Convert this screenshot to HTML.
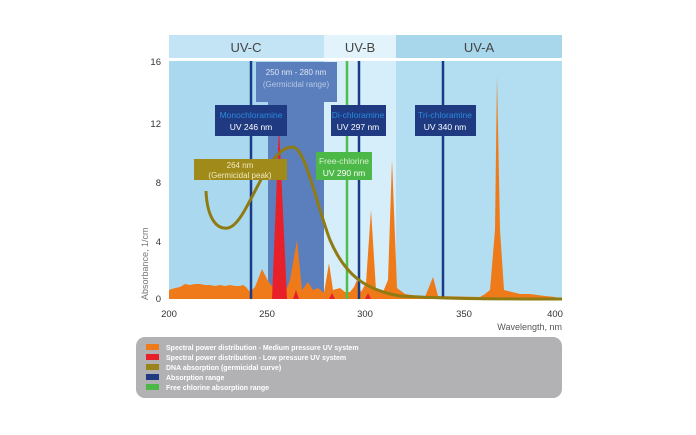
<!DOCTYPE html><html><head><style>body{margin:0;background:#fff}svg{display:block}text{font-family:"Liberation Sans",sans-serif}</style></head><body>
<svg width="696" height="435" viewBox="0 0 696 435">
<rect x="169" y="35" width="155" height="23" fill="#c3e4f4"/><rect x="324" y="35" width="72" height="23" fill="#e2f3fb"/><rect x="396" y="35" width="166" height="23" fill="#a8d6eb"/>
<text x="246" y="52" font-size="13" fill="#444" text-anchor="middle">UV-C</text><text x="360" y="52" font-size="13" fill="#444" text-anchor="middle">UV-B</text><text x="479" y="52" font-size="13" fill="#444" text-anchor="middle">UV-A</text>
<rect x="169" y="61" width="155" height="238" fill="#aad9ef"/><rect x="324" y="61" width="72" height="238" fill="#d6eef9"/><rect x="396" y="61" width="166" height="238" fill="#b3ddf0"/>
<path d="M256 62H337V102H324V299H268V102H256Z" fill="#5b7fbd"/>
<text x="296" y="75" font-size="8" fill="#dde6f4" text-anchor="middle">250 nm - 280 nm</text><text x="296" y="87" font-size="8" fill="#b8c8e4" text-anchor="middle">(Germicidal range)</text>
<polygon fill="#ef7a1a" points="169,299 169,290 175,288 180,287 185,284 190,285 195,284 200,284 205,285 210,285 215,286 220,285 225,286 230,285 235,286 240,286 243,285 246,287 250,292 255,287 262,269 268,281 275,290 283,298 290,280 297,240 302,290 308,282 313,290 318,288 324,293 329,263 333,290 340,288 345,292 350,292 354,287 357,280 361,292 366,283 371,210 376,290 383,292 388,280 392,160 397,288 405,294 425,297 433,277 438,296 480,297 485,294 490,290 495,230 497,76 500,230 504,290 512,292 520,294 530,294 545,296 555,297 562,299"/>
<polygon fill="#e8202a" points="272,299 279,126 287,299"/>
<g fill="#e8202a"><polygon points="293,299 296,290 299,299"/><polygon points="329,299 332,293 335,299"/><polygon points="365,299 368,293 371,299"/></g>
<line x1="251" y1="61" x2="251" y2="299" stroke="#1a3a8a" stroke-width="2.5"/><line x1="359" y1="61" x2="359" y2="299" stroke="#1a3a8a" stroke-width="2.5"/><line x1="443" y1="61" x2="443" y2="299" stroke="#1a3a8a" stroke-width="2.5"/><line x1="347" y1="61" x2="347" y2="299" stroke="#4cc04c" stroke-width="2.5"/>
<path d="M206,191 C207,215 215,230 228,228 C248,224 265,148 292,147 C305,146 315,200 330,240 C345,275 365,290 400,296 C450,299 500,299 562,299" fill="none" stroke="#8f7b12" stroke-width="3"/>
<rect x="215" y="105" width="72" height="31" fill="#1f3a80"/><text x="251" y="118" font-size="8.5" fill="#2a8ae0" text-anchor="middle">Monochloramine</text><text x="251" y="130" font-size="8.5" fill="#fff" text-anchor="middle">UV 246 nm</text>
<rect x="331" y="105" width="55" height="31" fill="#1f3a80"/><text x="358" y="118" font-size="8.5" fill="#2a8ae0" text-anchor="middle">Di-chloramine</text><text x="358" y="130" font-size="8.5" fill="#fff" text-anchor="middle">UV 297 nm</text>
<rect x="415" y="105" width="61" height="31" fill="#1f3a80"/><text x="445" y="118" font-size="8.5" fill="#2a8ae0" text-anchor="middle">Tri-chloramine</text><text x="445" y="130" font-size="8.5" fill="#fff" text-anchor="middle">UV 340 nm</text>
<rect x="316" y="152" width="56" height="28" fill="#4cb848"/><text x="344" y="164" font-size="8.5" fill="#d8f0d0" text-anchor="middle">Free-chlorine</text><text x="344" y="176" font-size="8.5" fill="#fff" text-anchor="middle">UV 290 nm</text>
<rect x="194" y="159" width="93" height="21" fill="#a08a1a"/><text x="240" y="168" font-size="8" fill="#f2e8c0" text-anchor="middle">264 nm</text><text x="240" y="178" font-size="8" fill="#f2e8c0" text-anchor="middle">(Germicidal peak)</text>
<g font-size="9.5" fill="#333" text-anchor="end"><text x="161" y="65">16</text><text x="161" y="127">12</text><text x="161" y="186">8</text><text x="161" y="245">4</text><text x="161" y="302">0</text></g>
<g font-size="9.5" fill="#333" text-anchor="middle"><text x="169" y="317">200</text><text x="267" y="317">250</text><text x="365" y="317">300</text><text x="464" y="317">350</text><text x="555" y="317">400</text></g>
<text x="562" y="330" font-size="9" fill="#555" text-anchor="end">Wavelength, nm</text>
<text transform="translate(148,300) rotate(-90)" font-size="9" fill="#777">Absorbance, 1/cm</text>
<rect x="136" y="337" width="426" height="61" rx="9" fill="#b2b2b4"/>
<g font-size="7" fill="#fff" font-weight="bold"><rect x="146" y="344" width="13" height="6" fill="#ef7a1a"/><text x="166" y="350">Spectral power distribution - Medium pressure UV system</text>
<rect x="146" y="354" width="13" height="6" fill="#e8202a"/><text x="166" y="360">Spectral power distribution - Low pressure UV system</text>
<rect x="146" y="364" width="13" height="6" fill="#9a8318"/><text x="166" y="370">DNA absorption (germicidal curve)</text>
<rect x="146" y="374" width="13" height="6" fill="#1f3a80"/><text x="166" y="380">Absorption range</text>
<rect x="146" y="384" width="13" height="6" fill="#4cb848"/><text x="166" y="390">Free chlorine absorption range</text></g>
</svg></body></html>
